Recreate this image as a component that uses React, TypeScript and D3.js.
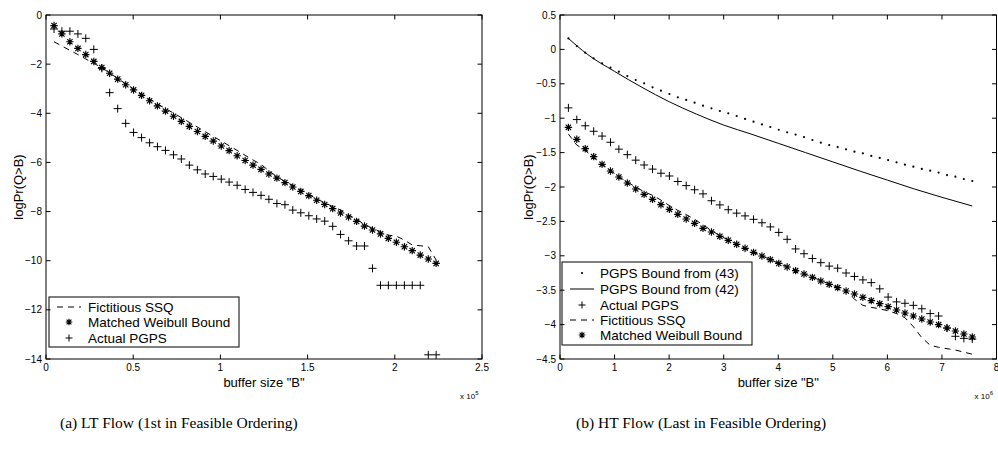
import React from 'react';
import * as d3 from 'd3';

// ---------- Data (a) LT flow, x in units of 1e5 ----------
const ltX = [0.046, 0.091, 0.137, 0.183, 0.228, 0.274, 0.320, 0.365, 0.411, 0.457, 0.502, 0.548, 0.594, 0.639, 0.685, 0.731, 0.776, 0.822, 0.868, 0.913, 0.959, 1.005, 1.050, 1.096, 1.142, 1.187, 1.233, 1.278, 1.324, 1.370, 1.415, 1.461, 1.507, 1.552, 1.598, 1.644, 1.689, 1.735, 1.781, 1.826, 1.872, 1.918, 1.963, 2.009, 2.055, 2.100, 2.146, 2.192, 2.237];
const ltSSQ = [-1.09, -1.26, -1.44, -1.61, -1.79, -1.97, -2.14, -2.36, -2.58, -2.80, -3.01, -3.22, -3.42, -3.62, -3.81, -3.99, -4.18, -4.37, -4.56, -4.75, -4.94, -5.13, -5.32, -5.51, -5.71, -5.90, -6.08, -6.34, -6.58, -6.78, -6.93, -7.12, -7.30, -7.49, -7.64, -7.80, -7.94, -8.14, -8.32, -8.52, -8.68, -8.82, -8.96, -9.00, -9.16, -9.36, -9.39, -9.43, -9.97];
const ltWeibull = [-0.43, -0.77, -1.09, -1.36, -1.61, -1.89, -2.14, -2.37, -2.61, -2.84, -3.05, -3.27, -3.49, -3.70, -3.91, -4.12, -4.33, -4.53, -4.74, -4.94, -5.13, -5.33, -5.52, -5.73, -5.92, -6.11, -6.28, -6.47, -6.64, -6.82, -7.00, -7.18, -7.35, -7.54, -7.71, -7.88, -8.06, -8.22, -8.40, -8.59, -8.75, -8.91, -9.09, -9.25, -9.43, -9.59, -9.77, -9.93, -10.11];
const ltPGPS = [-0.57, -0.66, -0.66, -0.77, -0.95, -1.40, -2.17, -3.16, -3.81, -4.41, -4.78, -4.99, -5.20, -5.36, -5.51, -5.69, -5.86, -6.11, -6.30, -6.47, -6.57, -6.68, -6.80, -6.93, -7.10, -7.22, -7.34, -7.50, -7.67, -7.72, -7.94, -8.05, -8.17, -8.30, -8.39, -8.60, -8.93, -9.19, -9.40, -9.40, -10.31, -11.0, -11.0, -11.0, -11.0, -11.0, -11.0, -13.83, -13.83];

// ---------- Data (b) HT flow, x in units of 1e6 ----------
const htX = [0.154, 0.308, 0.463, 0.617, 0.771, 0.925, 1.079, 1.234, 1.388, 1.542, 1.696, 1.850, 2.005, 2.159, 2.313, 2.467, 2.621, 2.776, 2.930, 3.084, 3.238, 3.392, 3.547, 3.701, 3.855, 4.009, 4.163, 4.318, 4.472, 4.626, 4.780, 4.934, 5.089, 5.243, 5.397, 5.551, 5.705, 5.860, 6.014, 6.168, 6.322, 6.476, 6.631, 6.785, 6.939, 7.093, 7.247, 7.402, 7.556];
const htBound43 = [0.16, 0.049, -0.048, -0.130, -0.202, -0.266, -0.324, -0.387, -0.445, -0.493, -0.551, -0.600, -0.648, -0.697, -0.735, -0.774, -0.818, -0.857, -0.895, -0.929, -0.968, -1.010, -1.050, -1.090, -1.128, -1.168, -1.205, -1.238, -1.275, -1.317, -1.356, -1.390, -1.419, -1.452, -1.487, -1.511, -1.549, -1.578, -1.608, -1.641, -1.675, -1.704, -1.738, -1.762, -1.791, -1.826, -1.850, -1.884, -1.913];
const htBound42X = [0.153, 0.5, 1.0, 1.5, 2.0, 2.5, 3.0, 3.5, 4.0, 4.5, 5.0, 5.5, 6.0, 6.5, 7.0, 7.556];
const htBound42Y = [0.161, -0.07, -0.32, -0.55, -0.76, -0.94, -1.10, -1.23, -1.365, -1.50, -1.635, -1.77, -1.90, -2.03, -2.15, -2.276];
const htPGPS = [-0.85, -1.02, -1.11, -1.19, -1.26, -1.35, -1.45, -1.53, -1.61, -1.68, -1.74, -1.80, -1.84, -1.92, -1.98, -2.04, -2.10, -2.20, -2.26, -2.33, -2.38, -2.42, -2.47, -2.52, -2.58, -2.66, -2.76, -2.90, -2.97, -3.04, -3.10, -3.15, -3.18, -3.25, -3.30, -3.35, -3.39, -3.48, -3.60, -3.67, -3.69, -3.72, -3.77, -3.84, -3.875, -4.05, -4.17, -4.20, -4.21];
const htSSQ = [-1.23, -1.39, -1.47, -1.57, -1.67, -1.76, -1.85, -1.93, -2.00, -2.07, -2.12, -2.19, -2.27, -2.34, -2.40, -2.47, -2.55, -2.63, -2.71, -2.77, -2.83, -2.89, -2.95, -3.00, -3.055, -3.11, -3.16, -3.21, -3.26, -3.31, -3.36, -3.41, -3.46, -3.51, -3.63, -3.72, -3.75, -3.77, -3.80, -3.84, -3.90, -4.03, -4.19, -4.30, -4.33, -4.35, -4.37, -4.40, -4.43];
const htWeibull = [-1.133, -1.307, -1.443, -1.559, -1.671, -1.767, -1.855, -1.942, -2.029, -2.107, -2.179, -2.257, -2.325, -2.397, -2.465, -2.528, -2.601, -2.654, -2.717, -2.775, -2.833, -2.891, -2.950, -3.003, -3.056, -3.110, -3.163, -3.216, -3.265, -3.313, -3.366, -3.415, -3.463, -3.512, -3.555, -3.604, -3.652, -3.696, -3.739, -3.788, -3.831, -3.875, -3.919, -3.962, -4.001, -4.049, -4.093, -4.137, -4.180];

// ---------- Ticks / labels ----------
const ltXTicks = [0, 0.5, 1, 1.5, 2, 2.5];
const ltYTicks = [0, -2, -4, -6, -8, -10, -12, -14];
const htXTicks = [0, 1, 2, 3, 4, 5, 6, 7, 8];
const htYTicks = [0.5, 0, -0.5, -1, -1.5, -2, -2.5, -3, -3.5, -4, -4.5];
const ltLegend = ['Fictitious SSQ', 'Matched Weibull Bound', 'Actual PGPS'];
const htLegend = ['PGPS Bound from (43)', 'PGPS Bound from (42)', 'Actual PGPS', 'Fictitious SSQ', 'Matched Weibull Bound'];
const yLabel = 'logPr(Q>B)';
const xLabel = 'buffer size "B"';
const captionA = '(a) LT Flow (1st in Feasible Ordering)';
const captionB = '(b) HT Flow (Last in Feasible Ordering)';

const SANS = 'Liberation Sans, Arial, Helvetica, sans-serif';
const SERIF = 'Liberation Serif, Times New Roman, serif';

const fmt = (v: number) => (v < 0 ? '\u2212' + String(-v) : String(v));

const asterisk = (cx: number, cy: number, r = 3.7) => {
  const d = r * 0.72;
  return `M${cx - r},${cy}H${cx + r}M${cx},${cy - r}V${cy + r}M${cx - d},${cy - d}L${cx + d},${cy + d}M${cx - d},${cy + d}L${cx + d},${cy - d}`;
};
const plus = (cx: number, cy: number, r = 4) => `M${cx - r},${cy}H${cx + r}M${cx},${cy - r}V${cy + r}`;

type Kind = 'dash' | 'star' | 'plus' | 'dot' | 'solid';

function Markers({ kind, xs, ys, x, y }: { kind: Kind; xs: number[]; ys: number[]; x: any; y: any }) {
  if (kind === 'dash' || kind === 'solid') {
    const pts = xs.map((v, i) => [v, ys[i]] as [number, number]);
    const gen = d3.line<[number, number]>().x(p => x(p[0])).y(p => y(p[1]));
    if (kind === 'solid') gen.curve(d3.curveMonotoneX);
    return <path d={gen(pts) || ''} fill="none" stroke="#000" strokeWidth={1} strokeDasharray={kind === 'dash' ? '6,5' : undefined} />;
  }
  if (kind === 'dot') {
    return <g>{xs.map((v, i) => <circle key={i} cx={x(v)} cy={y(ys[i])} r={1.1} fill="#000" />)}</g>;
  }
  const d = xs.map((v, i) => (kind === 'star' ? asterisk(x(v), y(ys[i])) : plus(x(v), y(ys[i])))).join('');
  return <path d={d} fill="none" stroke="#000" strokeWidth={kind === 'star' ? 1.15 : 1} />;
}

function LegendSample({ kind, cx, cy }: { kind: Kind; cx: number; cy: number }) {
  if (kind === 'dash') return <path d={`M${cx - 12},${cy}H${cx + 12}`} stroke="#000" strokeWidth={1} strokeDasharray="6,5" />;
  if (kind === 'solid') return <path d={`M${cx - 12},${cy}H${cx + 12}`} stroke="#000" strokeWidth={1} />;
  if (kind === 'dot') return <circle cx={cx} cy={cy} r={1.1} fill="#000" />;
  if (kind === 'star') return <path d={asterisk(cx, cy, 3.3)} stroke="#000" strokeWidth={1.15} fill="none" />;
  return <path d={plus(cx, cy, 3.5)} stroke="#000" strokeWidth={1} fill="none" />;
}

type PanelProps = {
  left: number; right: number; top: number; bottom: number;
  xDomain: [number, number]; yDomain: [number, number];
  xTicks: number[]; yTicks: number[];
  yLabelX: number; exp: string;
  series: { kind: Kind; xs: number[]; ys: number[] }[];
  legend: { labels: string[]; kinds: Kind[]; x0: number; x1: number; y0: number; y1: number; rows: number[]; textX: number; markX: number };
};

function Panel(p: PanelProps) {
  const x = d3.scaleLinear().domain(p.xDomain).range([p.left, p.right]);
  const y = d3.scaleLinear().domain(p.yDomain).range([p.bottom, p.top]);
  const tl = 4.5;
  const midX = (p.left + p.right) / 2;
  const midY = (p.top + p.bottom) / 2;
  return (
    <g>
      {p.series.map((s, i) => <Markers key={i} kind={s.kind} xs={s.xs} ys={s.ys} x={x} y={y} />)}
      <rect x={p.legend.x0} y={p.legend.y0} width={p.legend.x1 - p.legend.x0} height={p.legend.y1 - p.legend.y0} fill="#fff" stroke="#000" strokeWidth={1} />
      {p.legend.labels.map((lab, i) => (
        <g key={i}>
          <LegendSample kind={p.legend.kinds[i]} cx={p.legend.markX} cy={p.legend.rows[i]} />
          <text x={p.legend.textX} y={p.legend.rows[i]} dy="0.36em" fontFamily={SANS} fontSize={13.5} fill="#000">{lab}</text>
        </g>
      ))}
      <rect x={p.left} y={p.top} width={p.right - p.left} height={p.bottom - p.top} fill="none" stroke="#000" strokeWidth={1} />
      {p.xTicks.map((t, i) => (
        <g key={'xt' + i}>
          <line x1={x(t)} x2={x(t)} y1={p.bottom} y2={p.bottom - tl} stroke="#000" />
          <line x1={x(t)} x2={x(t)} y1={p.top} y2={p.top + tl} stroke="#000" />
          <text x={x(t)} y={p.bottom + 12} textAnchor="middle" fontFamily={SANS} fontSize={10} fill="#000">{fmt(t)}</text>
        </g>
      ))}
      {p.yTicks.map((t, i) => (
        <g key={'yt' + i}>
          <line x1={p.left} x2={p.left + tl} y1={y(t)} y2={y(t)} stroke="#000" />
          <line x1={p.right} x2={p.right - tl} y1={y(t)} y2={y(t)} stroke="#000" />
          <text x={p.left - 4} y={y(t)} dy="0.36em" textAnchor="end" fontFamily={SANS} fontSize={10} fill="#000">{fmt(t)}</text>
        </g>
      ))}
      <text x={midX} y={387} textAnchor="middle" fontFamily={SANS} fontSize={13} fill="#000">{xLabel}</text>
      <text transform={`translate(${p.yLabelX},${midY}) rotate(-90)`} textAnchor="middle" fontFamily={SANS} fontSize={13} fill="#000">{yLabel}</text>
      <text x={p.right - 22} y={399} fontFamily={SANS} fontSize={8} fill="#000">
        x 10<tspan dy={-4} fontSize={6}>{p.exp}</tspan>
      </text>
    </g>
  );
}

export default function App() {
  return (
    <svg width={998} height={451} style={{ position: 'absolute', left: 0, top: 0, background: '#fff' }}>
      <rect x={0} y={0} width={998} height={451} fill="#fff" />
      <Panel
        left={46} right={482} top={15} bottom={359}
        xDomain={[0, 2.5]} yDomain={[-14, 0]}
        xTicks={ltXTicks} yTicks={ltYTicks}
        yLabelX={23} exp="5"
        series={[
          { kind: 'dash', xs: ltX, ys: ltSSQ },
          { kind: 'star', xs: ltX, ys: ltWeibull },
          { kind: 'plus', xs: ltX, ys: ltPGPS },
        ]}
        legend={{ labels: ltLegend, kinds: ['dash', 'star', 'plus'], x0: 49, x1: 239, y0: 297, y1: 347, rows: [307, 322, 338], textX: 88, markX: 69 }}
      />
      <Panel
        left={560} right={996.5} top={15} bottom={359}
        xDomain={[0, 8]} yDomain={[-4.5, 0.5]}
        xTicks={htXTicks} yTicks={htYTicks}
        yLabelX={533} exp="6"
        series={[
          { kind: 'dot', xs: htX, ys: htBound43 },
          { kind: 'solid', xs: htBound42X, ys: htBound42Y },
          { kind: 'plus', xs: htX, ys: htPGPS },
          { kind: 'dash', xs: htX, ys: htSSQ },
          { kind: 'star', xs: htX, ys: htWeibull },
        ]}
        legend={{ labels: htLegend, kinds: ['dot', 'solid', 'plus', 'dash', 'star'], x0: 562, x1: 752, y0: 262, y1: 345, rows: [273, 289, 305, 320, 335], textX: 600, markX: 582 }}
      />
      <text x={60} y={428} fontFamily={SERIF} fontSize={15.5} fill="#000">{captionA}</text>
      <text x={576} y={428} fontFamily={SERIF} fontSize={15.5} fill="#000">{captionB}</text>
    </svg>
  );
}
